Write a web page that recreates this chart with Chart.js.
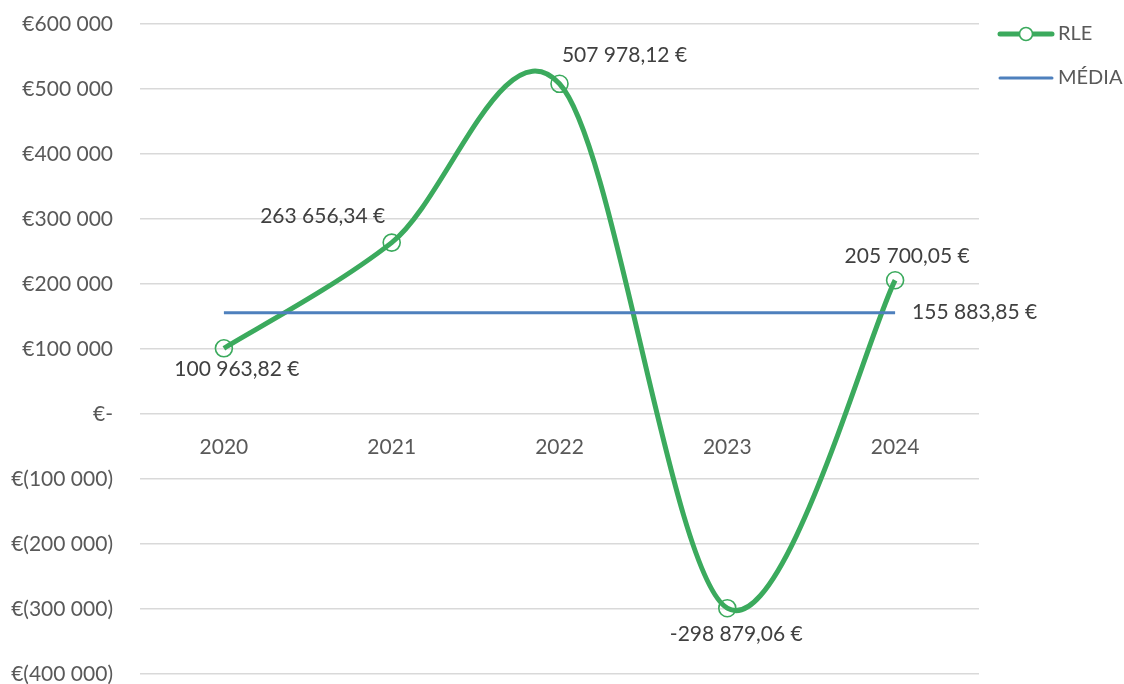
<!DOCTYPE html>
<html>
<head>
<meta charset="utf-8">
<title>RLE</title>
<script src="https://cdn.jsdelivr.net/npm/chart.js@4/dist/chart.umd.min.js"></script>
<style>
  html, body { margin: 0; padding: 0; background: #ffffff; }
  #wrap { width: 1124px; height: 684px; position: relative; }
</style>
</head>
<body>
<div id="wrap"><canvas id="chart" width="1124" height="684"></canvas></div>
<script>
// Years on the category axis
const years = ['2020', '2021', '2022', '2023', '2024'];
// Yearly result (RLE), in euros
const rleValues = [100963.82, 263656.34, 507978.12, -298879.06, 205700.05];
// Average of the five years, repeated across the period
const mediaValues = [155883.85, 155883.85, 155883.85, 155883.85, 155883.85];
// Value axis ticks
const yTicks = [600000, 500000, 400000, 300000, 200000, 100000, 0, -100000, -200000, -300000, -400000];

const GREEN = '#3BAA5D';
const BLUE = '#4E80BD';
const TEXT = '#595959';
const LABEL = '#404040';
const FONT = 'Lato, "Open Sans", sans-serif';
const FSIZE = 21;
const LEGEND_FSIZE = 20;

// where each RLE value label sits relative to its point (px)
const rleLabelOffsets = [[13, 21], [-69, -26], [65, -29], [9, 26], [12, -24]];

function groupThousands(n) {
  return String(n).replace(/\B(?=(\d{3})+(?!\d))/g, ' ');
}
function euroLabel(v) {
  const neg = v < 0;
  const parts = Math.abs(v).toFixed(2).split('.');
  return (neg ? '-' : '') + groupThousands(parts[0]) + ',' + parts[1] + ' €';
}
function axisLabel(v) {
  if (v === 0) return '€-';
  if (v < 0) return '€(' + groupThousands(Math.abs(v)) + ')';
  return '€' + groupThousands(v);
}

// Smooth line in the office-chart style: each control point is a sixth of
// the chord between the neighbouring points.
const officeSmoothing = {
  id: 'officeSmoothing',
  beforeDatasetDraw(chart, args) {
    const meta = args.meta;
    if (!meta.dataset || !meta.dataset.options.tension) return;
    meta.dataset.updateControlPoints(chart.chartArea, 'x');
    const pts = meta.data;
    for (let i = 0; i < pts.length; i++) {
      const p = pts[i];
      const prev = pts[Math.max(i - 1, 0)];
      const next = pts[Math.min(i + 1, pts.length - 1)];
      const dx = (next.x - prev.x) / 6;
      const dy = (next.y - prev.y) / 6;
      p.cp1x = p.x - dx; p.cp1y = p.y - dy;
      p.cp2x = p.x + dx; p.cp2y = p.y + dy;
    }
  }
};

// Value labels next to the points
const valueLabels = {
  id: 'valueLabels',
  afterDatasetsDraw(chart) {
    const ctx = chart.ctx;
    ctx.save();
    ctx.font = FSIZE + 'px ' + FONT;
    ctx.fillStyle = LABEL;
    ctx.textBaseline = 'middle';
    const rleMeta = chart.getDatasetMeta(0);
    rleMeta.data.forEach((pt, i) => {
      const off = rleLabelOffsets[i];
      ctx.textAlign = 'center';
      ctx.fillText(euroLabel(rleValues[i]), pt.x + off[0], pt.y + off[1]);
    });
    const mediaMeta = chart.getDatasetMeta(1);
    const last = mediaMeta.data[mediaMeta.data.length - 1];
    ctx.textAlign = 'left';
    ctx.fillText(euroLabel(mediaValues[mediaValues.length - 1]), last.x + 17, last.y);
    ctx.restore();
  }
};

// Legend on the right: line sample (with marker for RLE) and series name
const sideLegend = {
  id: 'sideLegend',
  afterDraw(chart) {
    const ctx = chart.ctx;
    const x0 = 1000, x1 = 1052;
    const rows = [34, 78];
    ctx.save();
    ctx.font = LEGEND_FSIZE + 'px ' + FONT;
    ctx.textBaseline = 'middle';
    ctx.textAlign = 'left';
    chart.data.datasets.forEach((ds, i) => {
      const y = rows[i];
      ctx.strokeStyle = ds.borderColor;
      ctx.lineWidth = ds.borderWidth;
      ctx.lineCap = 'round';
      ctx.beginPath();
      ctx.moveTo(x0, y);
      ctx.lineTo(x1, y);
      ctx.stroke();
      if (ds.pointRadius) {
        ctx.lineWidth = ds.pointBorderWidth;
        ctx.beginPath();
        ctx.arc((x0 + x1) / 2, y, 6.5, 0, Math.PI * 2);
        ctx.fillStyle = '#ffffff';
        ctx.fill();
        ctx.stroke();
      }
      ctx.fillStyle = TEXT;
      ctx.fillText(ds.label, x1 + 6, y);
    });
    ctx.restore();
  }
};

new Chart(document.getElementById('chart'), {
  type: 'line',
  data: {
    labels: years,
    datasets: [
      {
        label: 'RLE',
        data: rleValues,
        borderColor: GREEN,
        borderWidth: 5,
        tension: 0.4,
        fill: false,
        pointStyle: 'circle',
        pointRadius: 8.5,
        pointBorderWidth: 1.6,
        pointBorderColor: GREEN,
        pointBackgroundColor: 'rgba(0,0,0,0)',
        order: 1
      },
      {
        label: 'MÉDIA',
        data: mediaValues,
        borderColor: BLUE,
        borderWidth: 3,
        tension: 0,
        fill: false,
        pointRadius: 0,
        order: 0
      }
    ]
  },
  options: {
    responsive: false,
    animation: false,
    events: [],
    layout: { padding: { left: 0, right: 145, top: 24, bottom: 7 } },
    plugins: {
      legend: { display: false },
      tooltip: { enabled: false },
      title: { display: false }
    },
    scales: {
      x: {
        type: 'category',
        position: { y: 0 },
        offset: true,
        grid: { display: false, drawTicks: false },
        border: { display: false },
        ticks: { color: TEXT, font: { family: FONT, size: FSIZE }, padding: 21, maxRotation: 0 }
      },
      y: {
        min: -400000,
        max: 600000,
        afterBuildTicks(scale) { scale.ticks = yTicks.map(v => ({ value: v })); },
        afterFit(scale) { scale.width = 140; scale.paddingTop = 0; scale.paddingBottom = 0; },
        grid: { color: '#D9D9D9', lineWidth: 1.5, drawTicks: false },
        border: { display: false },
        ticks: {
          color: TEXT,
          font: { family: FONT, size: FSIZE },
          padding: 27,
          callback: v => axisLabel(v)
        }
      }
    }
  },
  plugins: [officeSmoothing, valueLabels, sideLegend]
});
</script>
</body>
</html>
